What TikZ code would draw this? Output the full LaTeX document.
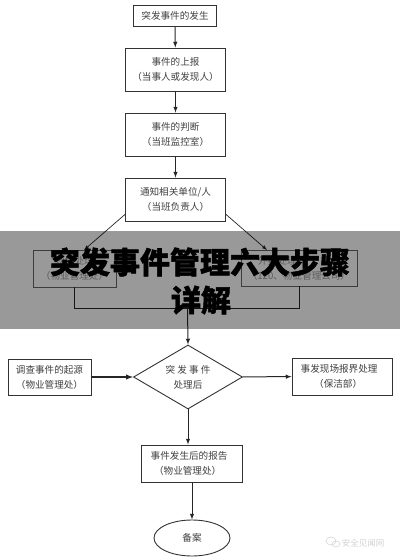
\documentclass[tikz,border=0pt]{standalone}
\usepackage{fontspec}
\setmainfont{Noto Sans CJK SC}
\newfontfamily\titlefont[BoldFeatures={FakeBold=1.6}]{Noto Sans CJK SC}
\usetikzlibrary{shapes.geometric}
\definecolor{boxline}{gray}{0.2}
\tikzset{
  procbox/.style={draw=boxline, fill=white, line width=0.9pt, inner sep=0pt, align=center,
    text=black!75, font=\fontsize{9.6}{15}\selectfont},
  hiddenbox/.style={procbox, draw=black!60, line width=.7pt, text=black!40},
  flow/.style={line width=1pt, draw=black!85, -latex},
  plain/.style={line width=1pt, draw=black!85},
  headline/.style={text=black, font=\titlefont\bfseries\fontsize{30}{36}\selectfont},
}

\begin{document}
\begin{tikzpicture}[x=1pt,y=-1pt]
\useasboundingbox (0,0) rectangle (400,560);
\node[procbox, minimum width=83pt, minimum height=21pt] (occur) at (175,15.5) {突发事件的发生};
\node[procbox, minimum width=100pt, minimum height=43pt] (report) at (175.5,69.5) {事件的上报\\（当事人或发现人）};
\node[procbox, minimum width=100pt, minimum height=43pt] (judge) at (175.5,134.5) {事件的判断\\（当班监控室）};
\node[procbox, minimum width=100pt, minimum height=43pt] (notify) at (175.5,199.5) {通知相关单位/人\\（当班负责人）};
\node[hiddenbox, minimum width=83pt, minimum height=37pt] (inner) at (74.5,268.5) {现场处理\\（物业管理处）};
\node[hiddenbox, minimum width=116pt, minimum height=36pt] (outer) at (299,268) {外援处理\hspace*{4.5em}\\（120、物业管理公司）};
\node[procbox, diamond, aspect=1.7, minimum width=109pt, minimum height=64pt] (after) at (188,377) {突 发 事 件\\处理后};
\node[procbox, minimum width=83pt, minimum height=36pt] (source) at (49.5,377) {调查事件的起源\\（物业管理处）};
\node[procbox, minimum width=100pt, minimum height=37pt] (clean) at (342,376.5) {事发现场报界处理\hspace*{0.6em}\\（保洁部）\hspace*{0.8em}};
\node[procbox, minimum width=101pt, minimum height=37pt] (summary) at (191.5,463.5) {事件发生后的报告\hspace*{0.5em}\\（物业管理处）\hspace*{0.8em}};
\node[procbox, ellipse, minimum width=76pt, minimum height=36pt] (filed) at (192,538) {备案};
% links
\coordinate (notifyl) at (125.5,214);
\coordinate (notifyr) at (225.5,214);
\coordinate (innertop) at (84,250);
\coordinate (outertop) at (267,250);
\coordinate (merge) at (187.5,308);
\draw[flow] (occur) -- (report);
\draw[flow] (report) -- (judge);
\draw[flow] (judge) -- (notify);
\draw[flow, line width=.7pt] (notifyl) -- (innertop);
\draw[flow, line width=.7pt] (notifyr) -- (outertop);
\draw[plain] (inner.south) |- (merge);
\draw[plain] (outer.south) |- (merge);
\draw[flow] (merge) -- (after.north);
\draw[flow, line width=1.4pt] (source) -- (after);
\draw[flow] (after) -- (clean);
\draw[flow] (after.south) -- (after.south |- summary.north);
\draw[flow] (summary.south -| filed) -- (filed);
% watermark
\node[text=black!18, font=\fontsize{8.5}{10}\selectfont] (mark) at (363,543) {安全见闻网};
\draw[black!18, line width=.5pt] (331,541) ellipse (5pt and 4pt);
\draw[black!18, line width=.5pt] (336,544) ellipse (4pt and 3pt);
% banner
\fill[black, opacity=.4] (0,231) rectangle (400,329);
\node[headline] (title) at (200,262) {突发事件管理六大步骤};
\node[headline] (titleb) at (201,300) {详解};
\end{tikzpicture}
\end{document}
